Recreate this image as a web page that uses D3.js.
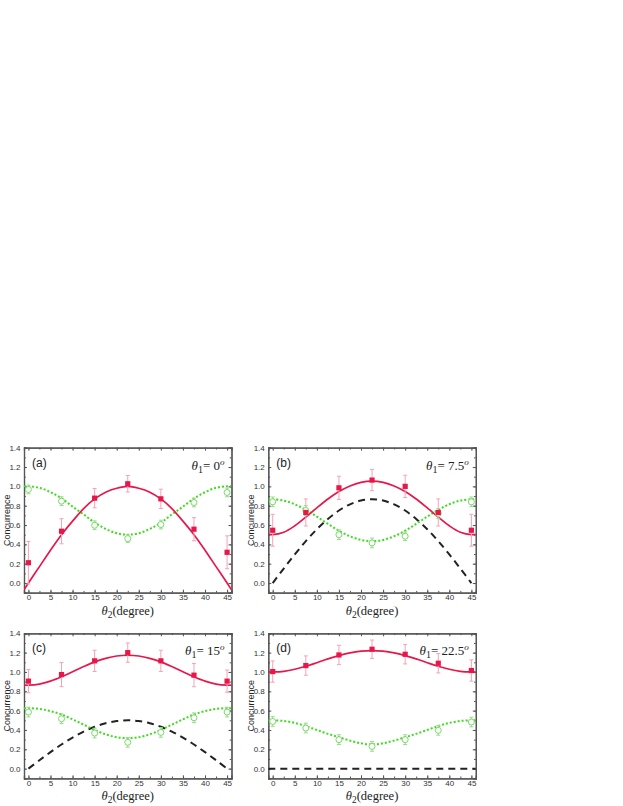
<!DOCTYPE html>
<html lang="en">
  <head>
    <meta charset="UTF-8">
    <title>Concurrence</title>
    <script src="https://cdn.jsdelivr.net/npm/d3@7"></script>
    <style>
      html, body {
        margin: 0;
        padding: 0;
        background: #fff;
      }
      .tick-label {
        font-family: 'Liberation Sans', Arial, sans-serif;
        font-size: 8px;
        fill: #333;
      }
      .ylabel {
        font-family: 'Liberation Sans', Arial, sans-serif;
        font-size: 9px;
        fill: #222;
      }
      .serif {
        font-family: 'Liberation Serif', 'Times New Roman', serif;
        fill: #222;
      }
    </style>
  </head>
  <body>
    <script>
      // measured angles (theta2) and fitted-curve sample angles
      const pointAngles = [0, 7.5, 15, 22.5, 30, 37.5, 45];
      const curveAngles = [-1, 0, 2.5, 5, 7.5, 10, 12.5, 15, 17.5, 20, 22.5, 25, 27.5, 30, 32.5, 35, 37.5, 40, 42.5, 45, 46];
      const blackAngles = [0, 2.5, 5, 7.5, 10, 12.5, 15, 17.5, 20, 22.5, 25, 27.5, 30, 32.5, 35, 37.5, 40, 42.5, 45];
      const blackAnglesD = [-1, 46];

      const panelNames = ["(a)", "(b)", "(c)", "(d)"];
      const theta1Labels = ["0", "7.5", "15", "22.5"];
      const xTicks = [0, 5, 10, 15, 20, 25, 30, 35, 40, 45];
      const yTicks = [0.0, 0.2, 0.4, 0.6, 0.8, 1.0, 1.2, 1.4];

      // panel (a)
      const redA = [0.21, 0.536, 0.878, 1.027, 0.871, 0.557, 0.318];
      const redErrA = [0.22, 0.13, 0.1, 0.085, 0.1, 0.12, 0.17];
      const greenA = [0.968, 0.847, 0.598, 0.46, 0.605, 0.833, 0.937];
      const greenErrA = [0.045, 0.045, 0.045, 0.04, 0.045, 0.045, 0.045];
      const redFitA = [-0.07, 0, 0.17, 0.34, 0.50, 0.64, 0.77, 0.87, 0.94, 0.98, 1.00, 0.98, 0.94, 0.87, 0.77, 0.64, 0.50, 0.34, 0.17, 0, -0.07];
      const greenFitA = [1.0, 1.0, 0.985, 0.94, 0.875, 0.79, 0.71, 0.625, 0.56, 0.515, 0.5, 0.515, 0.56, 0.625, 0.71, 0.79, 0.875, 0.94, 0.985, 1.0, 1.0];
      const blackFitA = null;

      // panel (b)
      const redB = [0.546, 0.73, 0.985, 1.065, 1.0, 0.73, 0.546];
      const redErrB = [0.165, 0.14, 0.12, 0.11, 0.115, 0.14, 0.165];
      const greenB = [0.84, 0.75, 0.50, 0.415, 0.484, 0.72, 0.84];
      const greenErrB = [0.05, 0.05, 0.05, 0.05, 0.045, 0.05, 0.05];
      const redFitB = [0.504, 0.5, 0.525, 0.592, 0.682, 0.778, 0.869, 0.946, 1.004, 1.041, 1.054, 1.041, 1.004, 0.946, 0.869, 0.778, 0.682, 0.592, 0.525, 0.5, 0.504];
      const greenFitB = [0.865, 0.866, 0.853, 0.815, 0.758, 0.687, 0.612, 0.541, 0.484, 0.446, 0.433, 0.446, 0.484, 0.541, 0.612, 0.687, 0.758, 0.815, 0.853, 0.866, 0.865];
      const blackFitB = [0, 0.15, 0.296, 0.433, 0.557, 0.663, 0.75, 0.814, 0.853, 0.866, 0.853, 0.814, 0.75, 0.663, 0.557, 0.433, 0.296, 0.15, 0];

      // panel (c)
      const redC = [0.905, 0.973, 1.115, 1.20, 1.115, 0.967, 0.905];
      const redErrC = [0.12, 0.125, 0.11, 0.1, 0.11, 0.12, 0.115];
      const greenC = [0.585, 0.516, 0.368, 0.272, 0.375, 0.526, 0.585];
      const greenErrC = [0.05, 0.05, 0.05, 0.05, 0.05, 0.05, 0.05];
      const redFitC = [0.864, 0.863, 0.874, 0.905, 0.950, 1.003, 1.056, 1.104, 1.141, 1.165, 1.173, 1.165, 1.141, 1.104, 1.056, 1.003, 0.950, 0.905, 0.874, 0.863, 0.864];
      const greenFitC = [0.624, 0.625, 0.618, 0.595, 0.56, 0.51, 0.455, 0.40, 0.355, 0.325, 0.315, 0.325, 0.355, 0.40, 0.455, 0.51, 0.56, 0.595, 0.618, 0.625, 0.624];
      const blackFitC = [0, 0.087, 0.171, 0.25, 0.321, 0.383, 0.433, 0.47, 0.492, 0.5, 0.492, 0.47, 0.433, 0.383, 0.321, 0.25, 0.171, 0.087, 0];

      // panel (d)
      const redD = [1.004, 1.066, 1.176, 1.235, 1.183, 1.09, 1.015];
      const redErrD = [0.11, 0.1, 0.1, 0.095, 0.1, 0.1, 0.11];
      const greenD = [0.488, 0.42, 0.30, 0.23, 0.30, 0.396, 0.482];
      const greenErrD = [0.05, 0.05, 0.05, 0.05, 0.05, 0.05, 0.05];
      const redFitD = [1.0, 1.0, 1.007, 1.028, 1.059, 1.096, 1.135, 1.169, 1.197, 1.215, 1.221, 1.215, 1.197, 1.169, 1.135, 1.096, 1.059, 1.028, 1.007, 1.0, 1.0];
      const greenFitD = [0.5, 0.5, 0.493, 0.473, 0.44, 0.40, 0.36, 0.325, 0.29, 0.262, 0.25, 0.262, 0.29, 0.325, 0.36, 0.40, 0.44, 0.473, 0.493, 0.5, 0.5];
      const blackFitD = [0, 0];

      const panels = [
        { red: redA, redErr: redErrA, green: greenA, greenErr: greenErrA, redFit: redFitA, greenFit: greenFitA, black: blackFitA, blackX: blackAngles },
        { red: redB, redErr: redErrB, green: greenB, greenErr: greenErrB, redFit: redFitB, greenFit: greenFitB, black: blackFitB, blackX: blackAngles },
        { red: redC, redErr: redErrC, green: greenC, greenErr: greenErrC, redFit: redFitC, greenFit: greenFitC, black: blackFitC, blackX: blackAngles },
        { red: redD, redErr: redErrD, green: greenD, greenErr: greenErrD, redFit: redFitD, greenFit: greenFitD, black: blackFitD, blackX: blackAnglesD }
      ];

      const RED = "#e8174a";
      const RED_LIGHT = "#f5a3b6";
      const GREEN = "#3ddc1e";
      const GREEN_LIGHT = "#93df84";
      const FRAME = "#555";

      const lefts = [24, 268.3];
      const tops = [447.7, 633.3];
      const w = 207.5;
      const h = 145;

      const svg = d3.select("body")
        .append("svg")
        .attr("width", 623)
        .attr("height", 806);

      const defs = svg.append("defs");

      panels.forEach((p, i) => {
        const left = lefts[i % 2];
        const top = tops[Math.floor(i / 2)];

        const x = d3.scaleLinear().domain([-1, 46]).range([0, w]);
        const y = d3.scaleLinear().domain([-0.1, 1.4]).range([h, 0]);

        const g = svg.append("g").attr("transform", `translate(${left},${top})`);

        defs.append("clipPath").attr("id", "clip" + i)
          .append("rect").attr("width", w).attr("height", h);

        // axes with inward ticks
        const minorX = d3.range(0, 46, 2.5);
        const minorY = d3.range(-0.1, 1.41, 0.1);

        const xb = d3.axisBottom(x).tickValues(xTicks).tickSize(-3).tickPadding(2).tickFormat(d3.format("d"));
        const xbMinor = d3.axisBottom(x).tickValues(minorX).tickSize(-1.8).tickFormat("");
        const xt = d3.axisTop(x).tickValues(xTicks).tickSize(-3).tickFormat("");
        const xtMinor = d3.axisTop(x).tickValues(minorX).tickSize(-1.8).tickFormat("");
        const yl = d3.axisLeft(y).tickValues(yTicks).tickSize(-3).tickPadding(3.5).tickFormat(d3.format(".1f"));
        const ylMinor = d3.axisLeft(y).tickValues(minorY).tickSize(-1.8).tickFormat("");
        const yr = d3.axisRight(y).tickValues(yTicks).tickSize(-3).tickFormat("");
        const yrMinor = d3.axisRight(y).tickValues(minorY).tickSize(-1.8).tickFormat("");

        const axes = [
          [xb, `translate(0,${h})`], [xbMinor, `translate(0,${h})`],
          [xt, "translate(0,0)"], [xtMinor, "translate(0,0)"],
          [yl, "translate(0,0)"], [ylMinor, "translate(0,0)"],
          [yr, `translate(${w},0)`], [yrMinor, `translate(${w},0)`]
        ];
        axes.forEach(([ax, tr]) => {
          const a = g.append("g").attr("transform", tr).call(ax);
          a.select(".domain").attr("stroke", FRAME).attr("stroke-width", 1.2);
          a.selectAll(".tick line").attr("stroke", FRAME);
          a.selectAll(".tick text").attr("class", "tick-label").attr("font-size", null).attr("font-family", null);
        });

        const plot = g.append("g").attr("clip-path", `url(#clip${i})`);

        // fitted curves
        const line = d3.line()
          .x(d => x(d[0]))
          .y(d => y(d[1]))
          .curve(d3.curveCatmullRom);

        if (p.black) {
          plot.append("path")
            .datum(p.blackX.map((a, k) => [a, p.black[k]]))
            .attr("d", line)
            .attr("fill", "none")
            .attr("stroke", "#222")
            .attr("stroke-width", 2)
            .attr("stroke-dasharray", "7,5");
        }

        plot.append("path")
          .datum(curveAngles.map((a, k) => [a, p.greenFit[k]]))
          .attr("d", line)
          .attr("fill", "none")
          .attr("stroke", GREEN)
          .attr("stroke-width", 2)
          .attr("stroke-dasharray", "2,2");

        plot.append("path")
          .datum(curveAngles.map((a, k) => [a, p.redFit[k]]))
          .attr("d", line)
          .attr("fill", "none")
          .attr("stroke", RED)
          .attr("stroke-width", 1.7);

        // error bars
        const drawErr = (vals, errs, color) => {
          const eg = plot.append("g").attr("stroke", color).attr("stroke-width", 1);
          pointAngles.forEach((a, k) => {
            const cx = x(a);
            const y1 = y(vals[k] + errs[k]);
            const y2 = y(vals[k] - errs[k]);
            eg.append("line").attr("x1", cx).attr("x2", cx).attr("y1", y1).attr("y2", y2);
            eg.append("line").attr("x1", cx - 2).attr("x2", cx + 2).attr("y1", y1).attr("y2", y1);
            eg.append("line").attr("x1", cx - 2).attr("x2", cx + 2).attr("y1", y2).attr("y2", y2);
          });
        };
        drawErr(p.green, p.greenErr, GREEN_LIGHT);
        drawErr(p.red, p.redErr, RED_LIGHT);

        plot.append("g").selectAll("circle")
          .data(pointAngles)
          .enter()
          .append("circle")
          .attr("cx", d => x(d))
          .attr("cy", (d, k) => y(p.green[k]))
          .attr("r", 3)
          .attr("fill", "#fff")
          .attr("stroke", "#7bd86a")
          .attr("stroke-width", 1);

        plot.append("g").selectAll("rect")
          .data(pointAngles)
          .enter()
          .append("rect")
          .attr("x", d => x(d) - 2.6)
          .attr("y", (d, k) => y(p.red[k]) - 2.6)
          .attr("width", 5.2)
          .attr("height", 5.2)
          .attr("fill", RED);

        // labels
        g.append("text")
          .attr("x", 8)
          .attr("y", 19)
          .attr("font-family", "'Liberation Sans', Arial, sans-serif")
          .attr("font-size", 12)
          .attr("fill", "#222")
          .text(panelNames[i]);

        const t1 = g.append("text")
          .attr("class", "serif")
          .attr("x", w - 7)
          .attr("y", 22)
          .attr("text-anchor", "end")
          .attr("font-size", 13);
        t1.append("tspan").attr("font-style", "italic").text("θ");
        t1.append("tspan").attr("font-size", 10).attr("dy", 3).text("1");
        t1.append("tspan").attr("dy", -3).text("= " + theta1Labels[i]);
        t1.append("tspan").attr("font-size", 9).attr("font-style", "italic").attr("dy", -5).text("o");

        g.append("text")
          .attr("class", "ylabel")
          .attr("transform", `translate(${-14.5},${h / 2}) rotate(-90)`)
          .attr("text-anchor", "middle")
          .text("Concurrence");

        const xl = g.append("text")
          .attr("class", "serif")
          .attr("x", w / 2)
          .attr("y", h + 22)
          .attr("text-anchor", "middle")
          .attr("font-size", 12.5);
        xl.append("tspan").attr("font-style", "italic").text("θ");
        xl.append("tspan").attr("font-size", 9.5).attr("dy", 3).text("2");
        xl.append("tspan").attr("dy", -3).text("(degree)");
      });
    </script>
  </body>
</html>
